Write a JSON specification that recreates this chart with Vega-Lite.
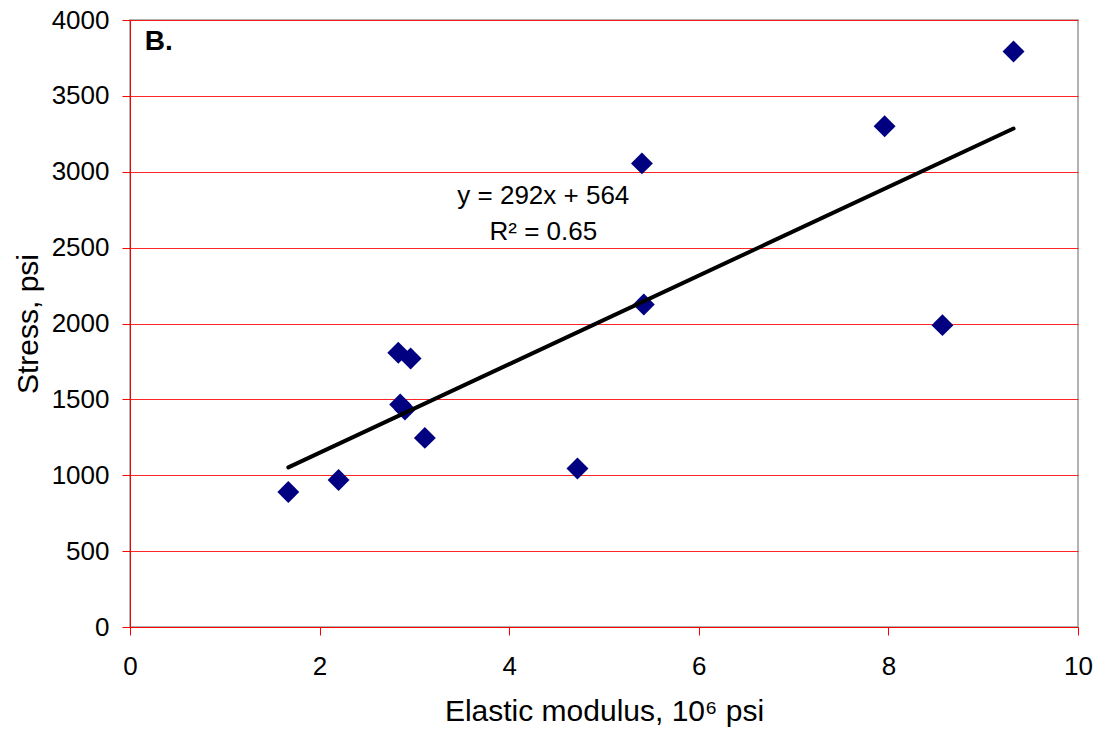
{
  "$schema": "https://vega.github.io/schema/vega-lite/v6.json",
  "width": 948,
  "height": 607,
  "autosize": {"type": "none"},
  "padding": {"left": 130, "top": 20, "right": 27, "bottom": 104},
  "background": "white",
  "config": {
    "font": "Liberation Sans",
    "view": {"stroke": "#999999", "strokeWidth": 1.5}
  },
  "datasets": {
    "points": [
      {"modulus": 1.67, "stress": 890},
      {"modulus": 2.2, "stress": 969},
      {"modulus": 2.83, "stress": 1807},
      {"modulus": 2.96, "stress": 1769},
      {"modulus": 2.85, "stress": 1466},
      {"modulus": 2.9, "stress": 1433},
      {"modulus": 3.11, "stress": 1246},
      {"modulus": 4.72, "stress": 1044},
      {"modulus": 5.4, "stress": 3055},
      {"modulus": 5.42, "stress": 2125},
      {"modulus": 7.96, "stress": 3300},
      {"modulus": 8.57, "stress": 1989},
      {"modulus": 9.32, "stress": 3792}
    ],
    "trend": [
      {"modulus": 1.67, "stress": 1052},
      {"modulus": 9.32, "stress": 3285}
    ],
    "labels": [
      {"lx": 4.36, "ly": 2837, "txt": "y = 292x + 564"},
      {"lx": 4.36, "ly": 2602, "txt": "R² = 0.65"}
    ]
  },
  "layer": [
    {
      "data": {"name": "points"},
      "mark": {"type": "point", "shape": "diamond", "filled": true, "color": "#000080", "size": 480, "opacity": 1},
      "encoding": {
        "x": {
          "field": "modulus", "type": "quantitative",
          "scale": {"domain": [0, 10], "nice": false, "zero": false},
          "axis": {
            "title": "Elastic modulus, 10⁶ psi",
            "values": [0, 2, 4, 6, 8, 10],
            "format": "d",
            "grid": false,
            "domainColor": "#ff0000", "domainWidth": 1,
            "tickColor": "#ff0000", "tickSize": 8, "tickWidth": 1,
            "labelFontSize": 26, "labelColor": "#000000", "labelPadding": 18,
            "labelFlush": false,
            "titleFontSize": 30, "titleFontWeight": "normal", "titleColor": "#000000", "titlePadding": 17
          }
        },
        "y": {
          "field": "stress", "type": "quantitative",
          "scale": {"domain": [0, 4000], "nice": false, "zero": false},
          "axis": {
            "title": "Stress, psi",
            "values": [0, 500, 1000, 1500, 2000, 2500, 3000, 3500, 4000],
            "format": "d",
            "grid": true, "gridColor": "#ff0000", "gridWidth": 1, "gridOpacity": 0.85,
            "domainColor": "#ff0000", "domainWidth": 1,
            "tickColor": "#ff0000", "tickSize": 8, "tickWidth": 1,
            "labelFontSize": 26, "labelColor": "#000000", "labelPadding": 13,
            "labelFlush": false,
            "titleFontSize": 30, "titleFontWeight": "normal", "titleColor": "#000000", "titlePadding": 8
          }
        }
      }
    },
    {
      "data": {"name": "trend"},
      "mark": {"type": "line", "color": "#000000", "strokeWidth": 4, "strokeCap": "round"},
      "encoding": {
        "x": {"field": "modulus", "type": "quantitative"},
        "y": {"field": "stress", "type": "quantitative"}
      }
    },
    {
      "data": {"name": "labels"},
      "mark": {"type": "text", "fontSize": 26, "color": "#000000", "align": "center", "baseline": "middle"},
      "encoding": {
        "x": {"field": "lx", "type": "quantitative"},
        "y": {"field": "ly", "type": "quantitative"},
        "text": {"field": "txt"}
      }
    },
    {
      "data": {"values": [{"txt": "B."}]},
      "mark": {"type": "text", "fontSize": 28, "fontWeight": "bold", "color": "#000000", "align": "left", "baseline": "middle"},
      "encoding": {
        "x": {"datum": 0.155, "type": "quantitative"},
        "y": {"datum": 3853, "type": "quantitative"},
        "text": {"field": "txt"}
      }
    }
  ]
}
